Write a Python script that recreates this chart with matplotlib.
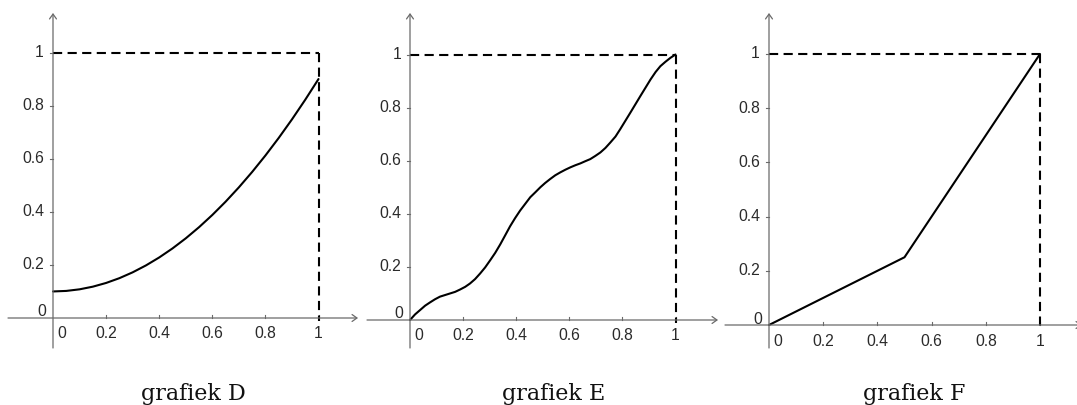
import matplotlib.pyplot as plt

d_x = [0, 0.05, 0.1, 0.15, 0.2, 0.25, 0.3, 0.35, 0.4, 0.45, 0.5,
       0.55, 0.6, 0.65, 0.7, 0.75, 0.8, 0.85, 0.9, 0.95, 1.0]
d_y = [0.1, 0.102, 0.108, 0.118, 0.132, 0.15, 0.172, 0.198, 0.228, 0.262, 0.3,
       0.342, 0.388, 0.438, 0.492, 0.55, 0.612, 0.678, 0.748, 0.822, 0.9]

e_x = [0, 0.019, 0.038, 0.057, 0.075, 0.094, 0.113, 0.132, 0.151, 0.170,
       0.189, 0.208, 0.226, 0.245, 0.264, 0.283, 0.302, 0.321, 0.340, 0.358,
       0.377, 0.396, 0.415, 0.434, 0.453, 0.472, 0.491, 0.509, 0.528, 0.547,
       0.566, 0.585, 0.604, 0.623, 0.642, 0.660, 0.679, 0.698, 0.717, 0.736,
       0.755, 0.774, 0.792, 0.811, 0.830, 0.849, 0.868, 0.887, 0.906, 0.925,
       0.943, 0.962, 0.981, 1.0]
e_y = [0, 0.021, 0.0375, 0.054, 0.066, 0.078, 0.088, 0.094, 0.10, 0.106,
       0.115, 0.125, 0.1375, 0.154, 0.175, 0.198, 0.225, 0.253, 0.285, 0.318,
       0.353, 0.384, 0.4125, 0.4375, 0.4625, 0.481, 0.50, 0.516, 0.531, 0.545,
       0.556, 0.566, 0.575, 0.583, 0.59, 0.598, 0.606, 0.618, 0.631, 0.648,
       0.669, 0.691, 0.719, 0.75, 0.781, 0.8125, 0.844, 0.875, 0.906, 0.934,
       0.956, 0.9725, 0.9875, 1.0]

f_x = [0, 0.5, 1.0]
f_y = [0, 0.25, 1.0]

ticks = [0, 0.2, 0.4, 0.6, 0.8, 1]
tick_labels = ["0", "0.2", "0.4", "0.6", "0.8", "1"]

captions = ["grafiek D", "grafiek E", "grafiek F"]

W, H = 1077, 405
fig = plt.figure(figsize=(W / 100, H / 100), dpi=100)

AXIS_COL = "#6a6a6a"
TXT_COL = "#2a2a2a"
label_font = dict(family="Liberation Sans", fontsize=11.3, color=TXT_COL)


def draw_panel(left, ox, oy, s, xs, ys, xaxis, yaxis, caption, cap_x):
    width = 359
    ax = fig.add_axes([left / W, 45 / H, width / W, 360 / H])
    ax.set_xlim((left - ox) / s, (left + width - ox) / s)
    ax.set_ylim((oy - 360) / s, oy / s)
    ax.axis("off")

    arrow = dict(arrowstyle="->,head_length=0.35,head_width=0.25", color=AXIS_COL,
                 lw=0.9, shrinkA=0, shrinkB=0, mutation_scale=10)
    ax.annotate("", xy=((xaxis[1] - ox) / s, 0), xytext=((xaxis[0] - ox) / s, 0),
                arrowprops=arrow, annotation_clip=False)
    ax.annotate("", xy=(0, (oy - yaxis[1]) / s), xytext=(0, (oy - yaxis[0]) / s),
                arrowprops=arrow, annotation_clip=False)

    # small ticks
    for t in ticks[1:]:
        ax.plot([t, t], [0, 3 / s], color=AXIS_COL, lw=0.8)
        ax.plot([-3 / s, 0], [t, t], color=AXIS_COL, lw=0.8)

    # tick labels
    for t, lab in zip(ticks, tick_labels):
        xo = 8.5 / s if t == 0 else 0
        ax.text(t + xo, -16 / s, lab, ha="center", va="center", **label_font)
        if t == 0:
            ax.text(-7 / s, 6 / s, lab, ha="right", va="center", **label_font)
        else:
            ax.text(-9 / s, t, lab, ha="right", va="center", **label_font)

    # dashed unit square
    dash = dict(color="black", lw=1.5, linestyle=(0, (4.4, 2.6)))
    ax.plot([0, 1], [1, 1], **dash)
    ax.plot([1, 1], [1, -3 / s], **dash)

    ax.plot(xs, ys, color="black", lw=1.5, solid_joinstyle="round",
            solid_capstyle="round")

    fig.text(cap_x / W, (H - 400) / H, caption, ha="center", va="baseline",
             family="DejaVu Serif", fontsize=16, color="#111111")


draw_panel(0, 53, 318, 265.5, d_x, d_y, (8, 358), (348, 13), captions[0], 193)
draw_panel(359, 410, 320, 265.5, e_x, e_y, (367, 718), (348, 13), captions[1], 554)
draw_panel(718, 769, 325, 271, f_x, f_y, (725, 1082), (348, 13), captions[2], 914)

fig.savefig("out.png", dpi=100)
